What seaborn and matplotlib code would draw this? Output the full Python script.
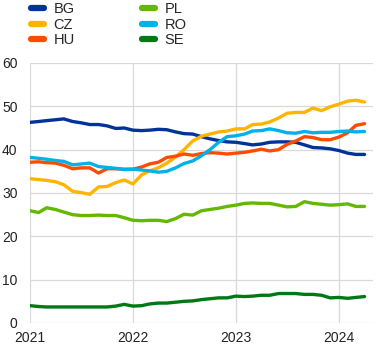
import numpy as np
import pandas as pd
import matplotlib
matplotlib.use("Agg")
import matplotlib.pyplot as plt
import matplotlib.dates as mdates
import seaborn as sns

dates = pd.date_range("2021-01-01", periods=40, freq="MS")

BG = [46.3, 46.5, 46.7, 46.9, 47.1, 46.5, 46.2, 45.8, 45.8, 45.5,
      44.9, 45.0, 44.5, 44.4, 44.5, 44.7, 44.6, 44.1, 43.7, 43.6,
      43.0, 42.5, 42.1, 41.8, 41.7, 41.4, 41.1, 41.3, 41.7, 41.8,
      41.8, 41.7, 41.1, 40.5, 40.4, 40.2, 39.8, 39.2, 38.9, 38.9]
CZ = [33.3, 33.1, 32.9, 32.6, 31.9, 30.4, 30.1, 29.7, 31.4, 31.5,
      32.4, 33.0, 32.1, 34.2, 35.1, 35.8, 36.9, 38.3, 40.0, 42.0,
      43.1, 43.6, 44.1, 44.3, 44.8, 44.8, 45.8, 45.9, 46.4, 47.3,
      48.4, 48.6, 48.6, 49.6, 49.0, 49.9, 50.5, 51.2, 51.4, 51.0]
HU = [37.1, 37.2, 37.0, 36.9, 36.4, 35.6, 35.8, 35.8, 34.6, 35.6,
      35.6, 35.5, 35.5, 36.0, 36.7, 37.1, 38.2, 38.5, 39.0, 38.7,
      39.1, 39.3, 39.2, 39.0, 39.2, 39.4, 39.7, 40.1, 39.7, 40.0,
      41.2, 42.0, 43.0, 42.8, 42.3, 42.3, 42.9, 43.9, 45.6, 46.0]
PL = [25.9, 25.5, 26.6, 26.2, 25.6, 25.0, 24.8, 24.8, 24.9, 24.8,
      24.8, 24.3, 23.7, 23.6, 23.7, 23.7, 23.4, 24.1, 25.1, 24.9,
      25.9, 26.2, 26.5, 26.9, 27.2, 27.6, 27.7, 27.6, 27.6, 27.2,
      26.8, 26.9, 28.0, 27.6, 27.4, 27.2, 27.3, 27.5, 26.9, 26.9]
RO = [38.2, 38.0, 37.8, 37.5, 37.3, 36.5, 36.7, 36.9, 36.1, 35.9,
      35.7, 35.4, 35.5, 35.3, 35.1, 34.8, 35.0, 35.8, 36.8, 37.4,
      38.6, 40.0, 41.7, 43.0, 43.2, 43.6, 44.3, 44.4, 44.8, 44.4,
      43.9, 43.8, 44.2, 43.9, 44.0, 44.0, 44.2, 44.3, 44.1, 44.2]
SE = [4.0, 3.8, 3.7, 3.7, 3.7, 3.7, 3.7, 3.7, 3.7, 3.7,
      3.9, 4.3, 3.9, 4.0, 4.4, 4.6, 4.6, 4.8, 5.0, 5.1,
      5.4, 5.6, 5.8, 5.8, 6.2, 6.1, 6.2, 6.4, 6.4, 6.8,
      6.8, 6.8, 6.6, 6.6, 6.4, 5.8, 5.9, 5.7, 5.9, 6.1]

countries = ["BG", "CZ", "HU", "PL", "RO", "SE"]
series = [BG, CZ, HU, PL, RO, SE]
colors = ["#003299", "#FFB400", "#FF4B00", "#65B800", "#00B1EA", "#007816"]
year_ticks = ["2021", "2022", "2023", "2024"]
y_ticks = [0, 10, 20, 30, 40, 50, 60]

df = pd.concat([pd.DataFrame({"date": dates, "value": v, "country": c})
                for c, v in zip(countries, series)], ignore_index=True)

sns.set_theme(style="white")
plt.rcParams["font.family"] = ["Liberation Sans", "DejaVu Sans"]

fig = plt.figure(figsize=(3.88, 3.5), dpi=100)
ax = fig.add_axes([30/388, 1-323/350, (373-30)/388, (323-63)/350])

sns.lineplot(data=df, x="date", y="value", hue="country", hue_order=countries,
             palette=colors, linewidth=2.4, ax=ax, legend=False,
             solid_capstyle="round")

ax.set_ylim(0, 60)
ax.set_yticks(y_ticks)
ax.set_xlim(pd.Timestamp("2021-01-01"), pd.Timestamp("2024-05-01"))
ax.set_xticks([pd.Timestamp(f"{y}-01-01") for y in year_ticks])
ax.set_xticklabels(year_ticks)
ax.set_xlabel("")
ax.set_ylabel("")
ax.grid(True, color="#d9d9d9", linewidth=0.9)
for s in ax.spines.values():
    s.set_visible(False)
ax.tick_params(axis="both", length=0, labelsize=10, colors="#222222")
ax.tick_params(axis="y", pad=9)
ax.tick_params(axis="x", pad=6)

from matplotlib.lines import Line2D
handles = [Line2D([0], [0], color=c, linewidth=4.5) for c in colors]
fig.legend(handles, countries, loc="upper left", bbox_to_anchor=(25/388, 1.01),
           ncol=2, frameon=False, fontsize=10.5, handlelength=0.9,
           handletextpad=0.65, columnspacing=4.6, labelspacing=0.1,
           borderaxespad=0)

fig.savefig("out.png", dpi=100)
